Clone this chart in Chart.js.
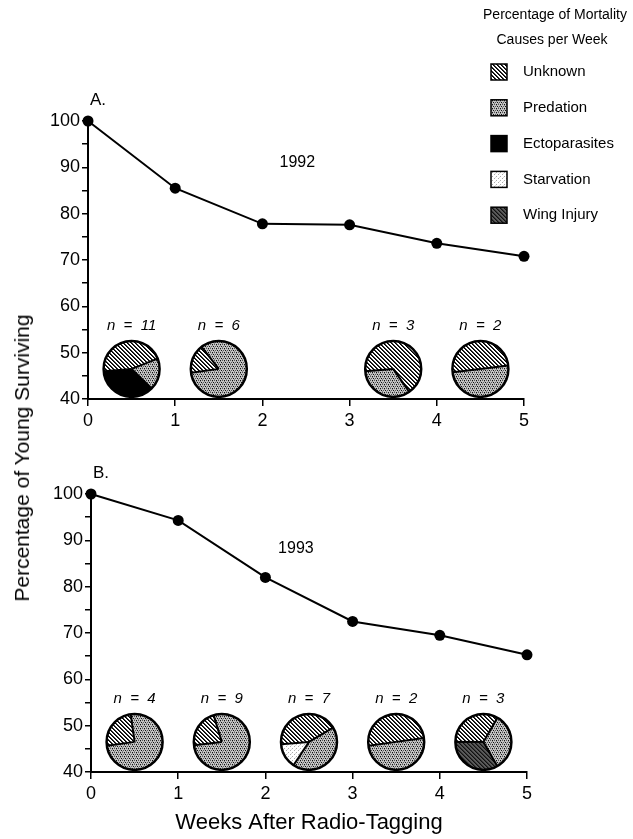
<!DOCTYPE html>
<html>
<head>
<meta charset="utf-8">
<script src="https://cdn.jsdelivr.net/npm/chart.js@4.4.1/dist/chart.umd.min.js"></script>
<style>
  html, body { margin: 0; padding: 0; background: #fff; }
  body { width: 633px; height: 839px; position: relative; overflow: hidden; font-family: "Liberation Sans", Arial, sans-serif; }
  #chartA { position: absolute; left: 0; top: 0; }
  #chartB { position: absolute; left: 0; top: 440px; }
  #ytitle { position: absolute; left: 22px; top: 458px; transform: translate(-50%, -50%) rotate(-90deg); white-space: nowrap; font-size: 21px; color: #000; }
</style>
</head>
<body>
<canvas id="chartA" width="633" height="440"></canvas>
<canvas id="chartB" width="633" height="399"></canvas>
<div id="ytitle">Percentage of Young Surviving</div>
<script>
'use strict';

// survival curves
let weeks = [0, 1, 2, 3, 4, 5];
let survival1992 = [100, 85.5, 77.8, 77.6, 73.6, 70.8];
let survival1993 = [100, 94.3, 82.0, 72.5, 69.5, 65.3];

// mortality causes (pie slices)
let causes = ['Unknown', 'Predation', 'Ectoparasites', 'Starvation', 'Wing Injury'];
let pieWeeks1992 = [0.5, 1.5, 3.5, 4.5];
let pieN1992 = [11, 6, 3, 2];
let pieCounts1992 = [[5, 2, 4, 0, 0], [1, 5, 0, 0, 0], [2, 1, 0, 0, 0], [1, 1, 0, 0, 0]];
let pieWeeks1993 = [0.5, 1.5, 2.5, 3.5, 4.5];
let pieN1993 = [4, 9, 7, 2, 3];
let pieCounts1993 = [[1, 3, 0, 0, 0], [2, 7, 0, 0, 0], [3, 3, 0, 1, 0], [1, 1, 0, 0, 0], [1, 1, 0, 0, 1]];

// start angle of first slice (degrees clockwise from 12 o'clock)
let pieStart1992 = [265, 262, 265, 263];
let pieStart1993 = [262, 263, 265, 262, 270];

const FONT = "'Liberation Sans', Arial, sans-serif";
Chart.defaults.font.family = FONT;
Chart.defaults.color = '#000';

function tile(size, bg, pixels) {
  let c = document.createElement('canvas');
  c.width = size; c.height = size;
  let g = c.getContext('2d');
  g.fillStyle = bg;
  g.fillRect(0, 0, size, size);
  pixels.forEach(p => { g.fillStyle = p[2]; g.fillRect(p[0], p[1], 1, 1); });
  return g.createPattern(c, 'repeat');
}

let fills = [
  // unknown: diagonal hatch
  tile(4, '#ffffff', [[0,0,'#000'],[1,1,'#000'],[2,2,'#000'],[3,3,'#000'],[1,0,'#333'],[2,1,'#333'],[3,2,'#333'],[0,3,'#333']]),
  // predation: stipple
  tile(4, '#c4c4c4', [[0,0,'#111'],[2,0,'#555'],[1,2,'#111'],[3,2,'#555'],[2,3,'#888'],[0,1,'#888']]),
  '#000000',
  // starvation: light dots
  tile(4, '#ffffff', [[0,0,'#aaa'],[2,2,'#aaa'],[3,1,'#ddd']]),
  // wing injury: dark hatch
  tile(4, '#5a5a5a', [[0,0,'#111'],[1,1,'#111'],[2,2,'#111'],[3,3,'#111'],[1,0,'#333'],[2,1,'#333'],[3,2,'#333'],[0,3,'#333']])
];

function drawPie(ctx, cx, cy, r, counts, startDeg) {
  let total = counts.reduce((a, b) => a + b, 0);
  let a = (startDeg - 90) * Math.PI / 180;
  let edges = [];
  counts.forEach((c, i) => {
    if (!c) return;
    let span = c / total * Math.PI * 2;
    ctx.beginPath();
    ctx.moveTo(cx, cy);
    ctx.arc(cx, cy, r, a, a + span);
    ctx.closePath();
    ctx.fillStyle = fills[i];
    ctx.fill();
    edges.push(a);
    a += span;
  });
  ctx.strokeStyle = '#000';
  ctx.lineWidth = 2;
  if (edges.length > 1) {
    edges.forEach(e => {
      ctx.beginPath();
      ctx.moveTo(cx, cy);
      ctx.lineTo(cx + r * Math.cos(e), cy + r * Math.sin(e));
      ctx.stroke();
    });
  }
  ctx.lineWidth = 2.5;
  ctx.beginPath();
  ctx.arc(cx, cy, r, 0, Math.PI * 2);
  ctx.stroke();
}

function panelPlugin(letter, year, yearPos, pieWeeks, pieN, pieCounts, pieStart) {
  return {
    id: 'panel' + letter,
    afterDraw(chart) {
      let ctx = chart.ctx;
      let xs = chart.scales.x, ys = chart.scales.y, area = chart.chartArea;
      ctx.save();
      ctx.fillStyle = '#000';
      ctx.textAlign = 'center';
      ctx.textBaseline = 'middle';
      ctx.font = '17px ' + FONT;
      ctx.fillText(letter + '.', area.left + 10, area.top - 21);
      ctx.font = '16px ' + FONT;
      ctx.fillText(year, xs.getPixelForValue(yearPos[0]), ys.getPixelForValue(yearPos[1]));
      for (let i = 0; i < pieWeeks.length; i++) {
        let cx = xs.getPixelForValue(pieWeeks[i]);
        let cy = ys.getPixelForValue(46.5);
        drawPie(ctx, cx, cy, 28, pieCounts[i], pieStart[i]);
        ctx.fillStyle = '#000';
        ctx.font = 'italic 15px ' + FONT;
        ctx.fillText('n  =  ' + pieN[i], cx, cy - 43);
      }
      ctx.restore();
    }
  };
}

let legendPlugin = {
  id: 'causeLegend',
  afterDraw(chart) {
    let ctx = chart.ctx;
    ctx.save();
    ctx.fillStyle = '#000';
    ctx.textBaseline = 'middle';
    ctx.textAlign = 'center';
    ctx.font = '14px ' + FONT;
    ctx.fillText('Percentage of Mortality', 555, 15);
    ctx.fillText('Causes per Week', 552, 40);
    ctx.textAlign = 'left';
    ctx.font = '15px ' + FONT;
    causes.forEach((c, i) => {
      let y = 72 + i * 35.8;
      ctx.fillStyle = fills[i];
      ctx.fillRect(491, y - 8, 16, 16);
      ctx.strokeStyle = '#000';
      ctx.lineWidth = 1.5;
      ctx.strokeRect(491, y - 8, 16, 16);
      ctx.fillStyle = '#000';
      ctx.fillText(c, 523, y);
    });
    ctx.restore();
  }
};

function makeChart(canvas, values, padding, xTitle, plugins) {
  return new Chart(canvas, {
    type: 'line',
    data: {
      datasets: [{
        data: weeks.map((w, i) => ({ x: w, y: values[i] })),
        borderColor: '#000',
        borderWidth: 2,
        backgroundColor: '#000',
        pointRadius: 5.5,
        pointBackgroundColor: '#000',
        pointBorderWidth: 0,
        clip: false
      }]
    },
    options: {
      responsive: false,
      animation: false,
      devicePixelRatio: 1,
      layout: { padding: padding },
      plugins: { legend: { display: false }, tooltip: { enabled: false } },
      scales: {
        x: {
          type: 'linear', min: 0, max: 5,
          ticks: { stepSize: 1, color: '#000', font: { size: 18 }, padding: 4 },
          grid: { drawOnChartArea: false, tickLength: 7, color: '#000', lineWidth: 1.5 },
          border: { color: '#000', width: 2 },
          title: { display: !!xTitle, text: xTitle, color: '#000', font: { size: 22 }, padding: { top: 2, bottom: 3 } },
          afterFit: s => { s.height = padding.xh; }
        },
        y: {
          min: 40, max: 100,
          ticks: { stepSize: 5, autoSkip: false, color: '#000', font: { size: 18 }, padding: 2,
            callback: v => (v % 10 === 0 ? v : '') },
          grid: { drawOnChartArea: false, tickLength: 6, color: '#000', lineWidth: 1.5 },
          border: { color: '#000', width: 2 },
          afterFit: s => { s.width = 50; }
        }
      }
    },
    plugins: plugins
  });
}

makeChart(document.getElementById('chartA'), survival1992,
  { left: 38, right: 109, top: 121, bottom: 0, xh: 41 }, '',
  [panelPlugin('A', '1992', [2.4, 91], pieWeeks1992, pieN1992, pieCounts1992, pieStart1992), legendPlugin]);

makeChart(document.getElementById('chartB'), survival1993,
  { left: 41, right: 106, top: 54, bottom: 0, xh: 67 }, 'Weeks After Radio-Tagging',
  [panelPlugin('B', '1993', [2.35, 88.3], pieWeeks1993, pieN1993, pieCounts1993, pieStart1993)]);
</script>
</body>
</html>
